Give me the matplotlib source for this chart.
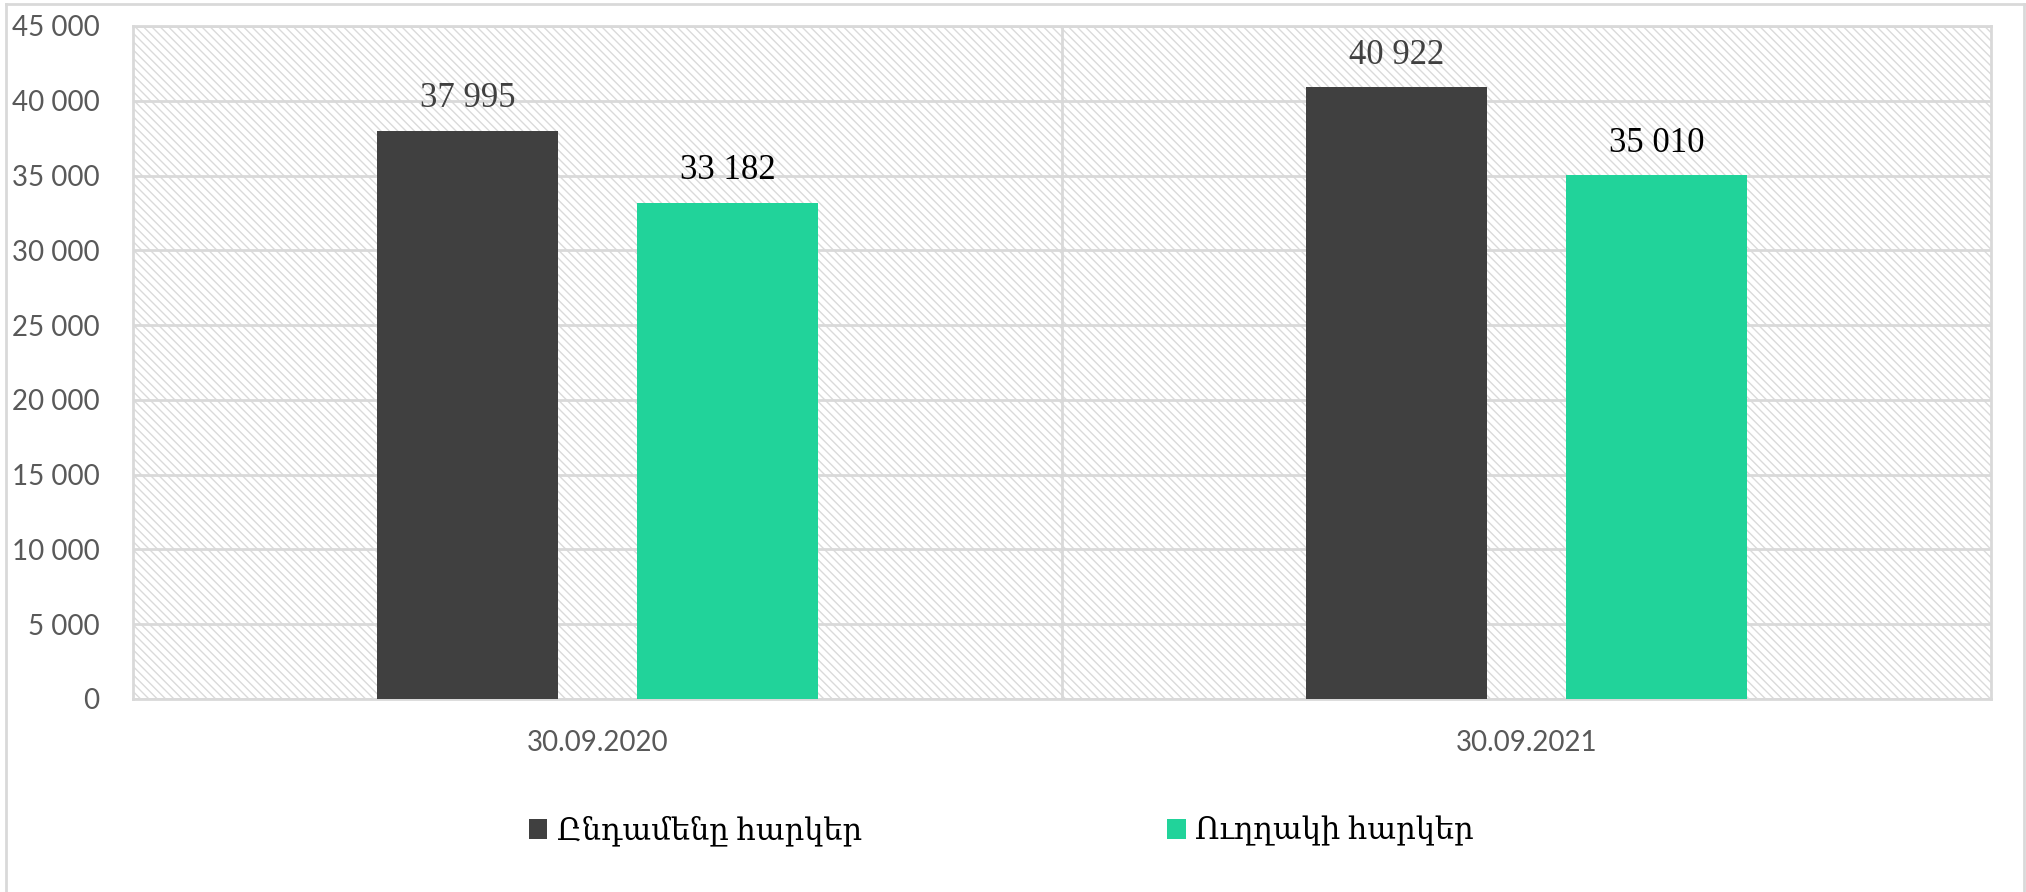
import matplotlib
matplotlib.use("Agg")
from matplotlib import pyplot as plt
from matplotlib.lines import Line2D
import numpy as np

categories = ["30.09.2020", "30.09.2021"]
series_names = ["Ընդամենը հարկեր", "Ուղղակի հարկեր"]
total_tax = [37995, 40922]
direct_tax = [33182, 35010]

yticks = np.arange(0, 45001, 5000)

def fmt(v):
    return "{:,}".format(int(v)).replace(",", " ")

plt.rcParams['hatch.linewidth'] = 1.0
tick_font = ['Lato', 'DejaVu Sans']
serif_font = ['Liberation Serif', 'DejaVu Serif']

fig = plt.figure(figsize=(20.26, 8.92), dpi=100)
ax = fig.add_axes([0.0656, 0.2164, 0.9171, 0.7545])

# hatched plot area
ax.patch.set_facecolor('white')
ax.patch.set_edgecolor('#dadada')
ax.patch.set_hatch('\\\\\\\\')
ax.patch.set_linewidth(0)

x = np.arange(len(categories))
w = 0.195
off = 0.14
b1 = ax.bar(x - off, total_tax, w, color='#404040', label=series_names[0], zorder=3)
b2 = ax.bar(x + off, direct_tax, w, color='#21d39a', label=series_names[1], zorder=3)

for rect, v in zip(b1, total_tax):
    ax.annotate(fmt(v), (rect.get_x() + rect.get_width() / 2, v), xytext=(0, 11),
                textcoords='offset points', ha='center', va='bottom',
                fontsize=25, color='#404040', family=serif_font)
for rect, v in zip(b2, direct_tax):
    ax.annotate(fmt(v), (rect.get_x() + rect.get_width() / 2, v), xytext=(0, 11),
                textcoords='offset points', ha='center', va='bottom',
                fontsize=25, color='black', family=serif_font)

ax.set_xlim(-0.5, 1.5)
ax.set_ylim(0, 45000)
ax.set_yticks(yticks)
ax.set_yticklabels([fmt(t) for t in yticks], fontsize=20, color='#595959', family=tick_font)
ax.set_xticks(x)
ax.set_xticklabels(categories, fontsize=20, color='#595959', family=tick_font)
ax.tick_params(length=0)
ax.tick_params(axis='y', pad=24)
ax.tick_params(axis='x', pad=22)

ax.set_axisbelow(True)
ax.yaxis.grid(True, color='#d9d9d9', linewidth=2, zorder=1)
ax.axvline(0.5, color='#d9d9d9', linewidth=2, zorder=1)
for s in ax.spines.values():
    s.set_color('#d9d9d9')
    s.set_linewidth(2)

# outer chart frame
fig.add_artist(Line2D([0.003, 0.003], [0.0, 0.996], transform=fig.transFigure, color='#d9d9d9', lw=2))
fig.add_artist(Line2D([0.003, 0.999], [0.996, 0.996], transform=fig.transFigure, color='#d9d9d9', lw=2))
fig.add_artist(Line2D([0.999, 0.999], [0.0, 0.996], transform=fig.transFigure, color='#d9d9d9', lw=2))

fig.legend(handles=[b1, b2], loc='center', bbox_to_anchor=(0.4942, 0.068), ncol=2,
           frameon=False,
           prop={'family': serif_font, 'size': 22},
           handlelength=0.6, handleheight=0.6, handletextpad=0.3, columnspacing=10.0)

fig.savefig('out.png', dpi=100)
